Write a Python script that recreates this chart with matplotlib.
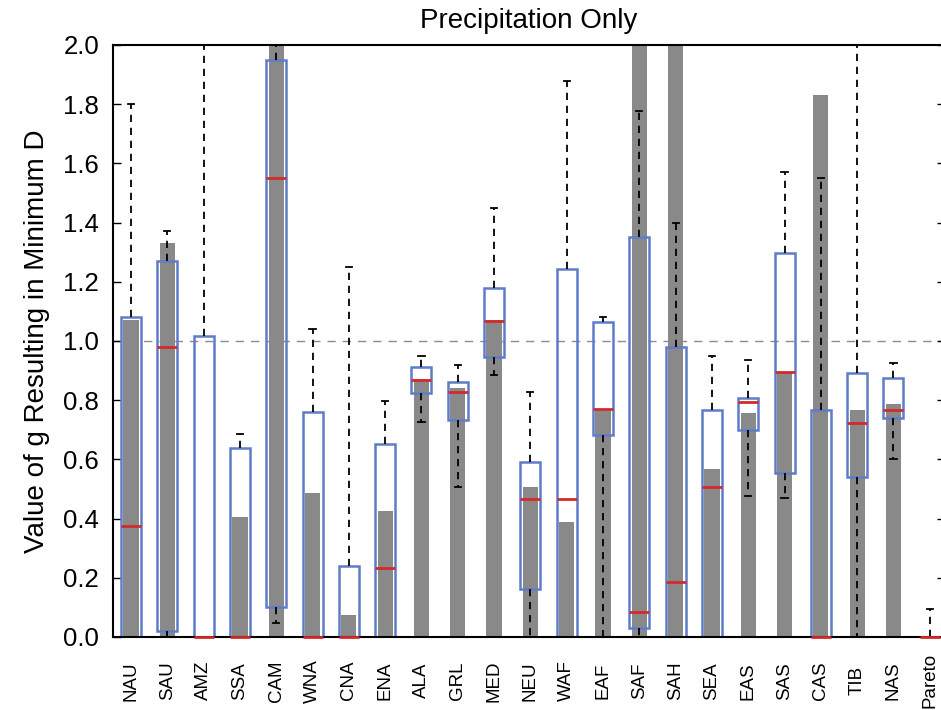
import matplotlib
matplotlib.use("Agg")
import matplotlib.pyplot as plt

plt.rcParams['font.family'] = ['Liberation Sans', 'DejaVu Sans']

regions = ["NAU", "SAU", "AMZ", "SSA", "CAM", "WNA", "CNA", "ENA", "ALA", "GRL",
           "MED", "NEU", "WAF", "EAF", "SAF", "SAH", "SEA", "EAS", "SAS", "CAS",
           "TIB", "NAS", "Pareto"]

# grey bars (best single value)
bar_height = [1.07, 1.33, 0.0, 0.405, 2.0, 0.487, 0.075, 0.426, 0.87, 0.84,
              1.07, 0.507, 0.389, 0.77, 2.0, 2.0, 0.567, 0.757, 0.895, 1.83,
              0.767, 0.787, 0.0]

# box statistics
q1 = [0.0, 0.02, 0.0, 0.0, 0.10, 0.0, 0.0, 0.0, 0.824, 0.733,
      0.946, 0.162, 0.0, 0.682, 0.03, 0.0, 0.0, 0.70, 0.554, 0.0,
      0.54, 0.74, 0.0]
q3 = [1.08, 1.27, 1.017, 0.64, 1.95, 0.76, 0.24, 0.652, 0.912, 0.86,
      1.18, 0.59, 1.243, 1.064, 1.35, 0.98, 0.767, 0.807, 1.297, 0.767,
      0.892, 0.875, 0.0]
median = [0.375, 0.98, 0.0, 0.0, 1.55, 0.0, 0.0, 0.233, 0.868, 0.827,
          1.067, 0.466, 0.466, 0.77, 0.085, 0.186, 0.507, 0.793, 0.895, 0.0,
          0.723, 0.767, 0.0]
whisk_lo = [0.0, 0.0, 0.0, 0.0, 0.047, 0.0, 0.0, 0.0, 0.727, 0.507,
            0.885, 0.0, 0.0, 0.0, 0.0, 0.0, 0.0, 0.476, 0.47, 0.0,
            0.0, 0.60, 0.0]
whisk_hi = [1.80, 1.37, 2.2, 0.685, 2.2, 1.04, 1.25, 0.797, 0.95, 0.919,
            1.45, 0.827, 1.878, 1.08, 1.777, 1.40, 0.95, 0.936, 1.571, 1.55,
            2.2, 0.926, 0.095]

yticks = [0.0, 0.2, 0.4, 0.6, 0.8, 1.0, 1.2, 1.4, 1.6, 1.8, 2.0]

fig = plt.figure(figsize=(9.41, 7.10), dpi=100)
ax = fig.add_axes([113/941, (710-637)/710, (945-113)/941, (637-45)/710])

pos = list(range(1, len(regions) + 1))

ax.bar(pos, bar_height, width=0.42, color='#898989', zorder=1)

stats = []
for i in range(len(regions)):
    stats.append(dict(med=median[i], q1=q1[i], q3=q3[i],
                      whislo=whisk_lo[i], whishi=whisk_hi[i], fliers=[]))

bp = ax.bxp(stats, positions=pos, widths=0.55, capwidths=0.17, patch_artist=True,
            showfliers=False, manage_ticks=False,
            boxprops=dict(facecolor='none', edgecolor='#5f7cc9', linewidth=1.8),
            whiskerprops=dict(color='black', linewidth=1.3, linestyle=(0, (4.0, 3.2))),
            capprops=dict(color='black', linewidth=1.3),
            medianprops=dict(color='#d42a2a', linewidth=2.0, solid_capstyle='butt'),
            zorder=2)
for m in bp['medians']:
    m.set_zorder(3)
    m.set_clip_on(False)

ax.axhline(1.0, color='#8c8c8c', linewidth=1.0, linestyle=(0, (6, 5)), zorder=0.5)

ax.set_xlim(0.504, 23.42)
ax.set_ylim(0, 2.0)
ax.set_yticks(yticks)
ax.set_yticklabels([f"{v:.1f}" for v in yticks])
ax.set_xticks(pos)
ax.set_xticklabels(regions, rotation=90, fontsize=13.5, va='center')
ax.tick_params(axis='x', length=0, pad=31.5)
ax.tick_params(axis='y', direction='in', length=6, width=1, labelsize=18.5,
               pad=10, right=True)

for s in ax.spines.values():
    s.set_linewidth(1.5)

ax.set_title("Precipitation Only", fontsize=20, pad=12)
ax.set_ylabel("Value of g Resulting in Minimum D", fontsize=20)
ax.yaxis.set_label_coords(-0.076, 0.5)

fig.savefig("out.png", dpi=100)
